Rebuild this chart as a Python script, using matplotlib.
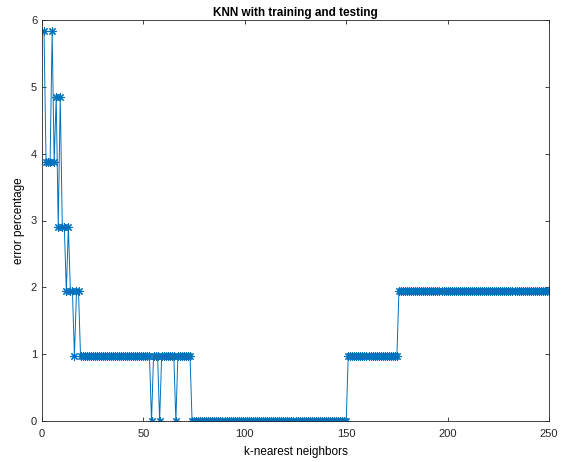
import numpy as np
import matplotlib.pyplot as plt
from matplotlib import rcParams

rcParams['font.family'] = 'Liberation Sans'
rcParams['font.size'] = 8

# error percentage for k = 1..20 (read point by point)
err_start = [5.83, 3.88, 3.88, 3.88, 5.83, 3.88, 4.85, 2.91, 4.85, 2.91,
             2.91, 1.94, 2.91, 1.94, 1.94, 0.97, 1.94, 1.94, 0.97, 0.97]
# remaining k = 21..250 as (value, run length)
err_runs = [(0.97, 33), (0.0, 1), (0.97, 3), (0.0, 1), (0.97, 7), (0.0, 1),
            (0.97, 7), (0.0, 77), (0.97, 25), (1.94, 75)]

err = list(err_start)
for val, n in err_runs:
    err += [val] * n
err = np.array(err)
k = np.arange(1, len(err) + 1)

fig = plt.figure(figsize=(5.64, 4.62), dpi=100)
ax = fig.add_axes([42 / 564, 1 - 421 / 462, 507 / 564, 401 / 462])
ax.plot(k, err, color='#0072BD', marker=(8, 2, 0), markersize=6, linewidth=0.7,
        markeredgewidth=0.8)

ax.set_xlim(0, 250)
ax.set_ylim(0, 6)
ax.set_xticks([0, 50, 100, 150, 200, 250])
ax.set_yticks(range(7))
ax.tick_params(direction='in', top=True, right=True, length=3, width=0.6,
               colors='#262626', labelsize=8)
ax.tick_params(axis='x', pad=6)
for s in ax.spines.values():
    s.set_linewidth(0.6)
    s.set_color('#262626')
ax.set_xlabel('k-nearest neighbors', fontsize=8.5, labelpad=5)
ax.set_ylabel('error percentage', fontsize=8.5, labelpad=4)
ax.set_title('KNN with training and testing', fontsize=8.5, fontweight='bold', pad=3)

fig.savefig('out.png', dpi=100)
